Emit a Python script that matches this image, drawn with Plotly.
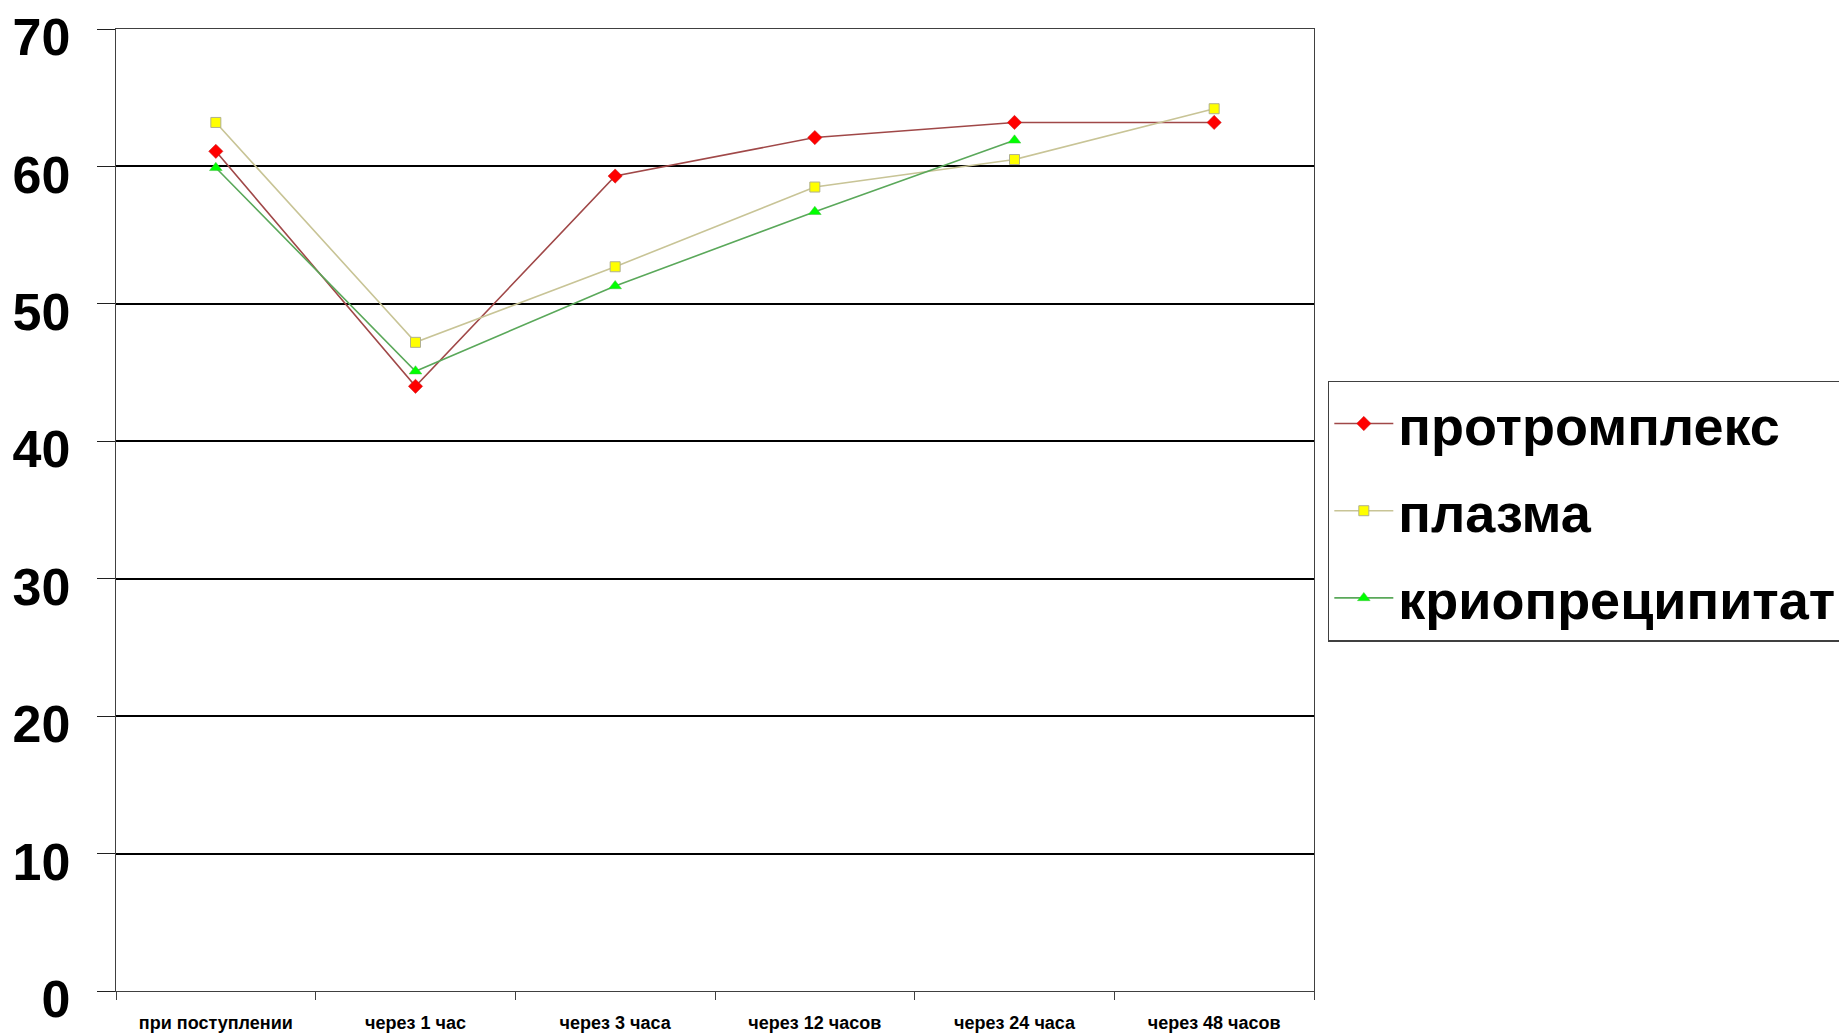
import plotly.graph_objects as go

categories = ["при поступлении", "через 1 час", "через 3 часа", "через 12 часов", "через 24 часа", "через 48 часов"]
series_names = ["протромплекс", "плазма", "криопреципитат"]
protromplex = [61.1, 44.0, 59.3, 62.1, 63.2, 63.2]
plasma = [63.2, 47.2, 52.7, 58.5, 60.5, 64.2]
cryo = [59.9, 45.1, 51.3, 56.7, 61.9, None]
y_ticks = [0, 10, 20, 30, 40, 50, 60, 70]

FONT = "Liberation Sans, Arial, sans-serif"

fig = go.Figure()
styles = [
    dict(line_color="#A04848", marker=dict(symbol="diamond", color="#FF0000", size=11, line=dict(color="#C02020", width=0.5))),
    dict(line_color="#C8C496", marker=dict(symbol="square", color="#FFFF00", size=10, line=dict(color="#B0B090", width=1))),
    dict(line_color="#5AA85A", marker=dict(symbol="triangle-up", color="#00FF00", size=11, line=dict(color="#40C040", width=0.5))),
]
for name, vals, st in zip(series_names, [protromplex, plasma, cryo], styles):
    fig.add_trace(go.Scatter(
        x=categories, y=vals, name=name, mode="lines+markers",
        legendgroup=name,
        line=dict(color=st["line_color"], width=1.6),
        marker=st["marker"],
    ))

fig.update_layout(
    width=1839, height=1025,
    margin=dict(l=108, r=533, t=21, b=42, autoexpand=False),
    plot_bgcolor="white", paper_bgcolor="white",
    font=dict(family=FONT, color="black"),
    showlegend=True,
    legend=dict(
        x=1.0117, y=0.6345, xanchor="left", yanchor="top",
        bgcolor="white", bordercolor="#404040", borderwidth=1.3,
        font=dict(family=FONT, size=54, color="black", weight="bold"),
        itemwidth=59, tracegroupgap=14,
    ),
)
fig.update_xaxes(
    type="category", categoryorder="array", categoryarray=categories,
    range=[-0.5, 5.5], tickson="boundaries",
    showline=True, linecolor="#404040", linewidth=1.3, mirror=True,
    ticks="outside", ticklen=8, tickcolor="#404040", tickwidth=1.3,
    showgrid=False,
    ticklabelstandoff=15,
    tickfont=dict(family=FONT, size=18, color="black", weight="bold"),
)
fig.update_yaxes(
    range=[0, 70], tickvals=y_ticks,
    showline=True, linecolor="#404040", linewidth=1.3, mirror=True,
    ticks="outside", ticklen=18, tickcolor="#202020", tickwidth=1.3,
    showgrid=True, gridcolor="#000000", gridwidth=1.6,
    zeroline=False,
    ticklabelstandoff=16, ticklabelshift=8, ticklabeloverflow="allow",
    tickfont=dict(family=FONT, size=52, color="black", weight="bold"),
)

fig.write_html("out.html")
